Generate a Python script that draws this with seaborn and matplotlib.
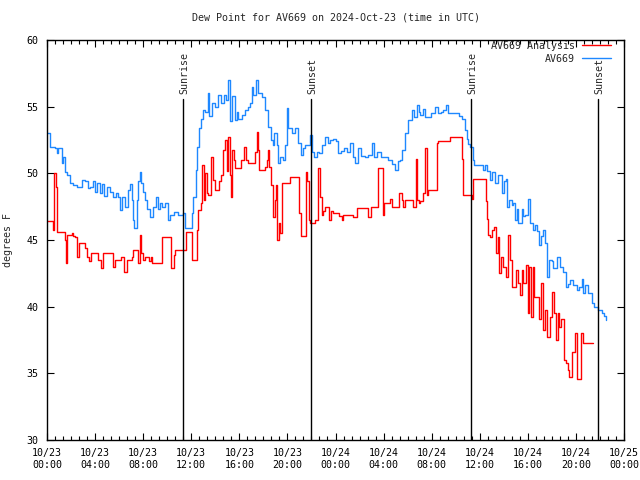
import matplotlib
matplotlib.use("Agg")
import matplotlib.pyplot as plt
import matplotlib.dates as mdates
import numpy as np
import pandas as pd
import seaborn as sns

# hours after 2024-10-23 00:00 UTC, dew point in degF
obs_hours = [
    0.0, 0.25, 0.67, 0.8, 0.92, 1.22, 1.33, 1.5, 1.64, 1.91, 2.19, 2.5, 2.89, 3.16, 3.41, 3.58,
    3.83, 4.0, 4.16, 4.41, 4.58, 4.74, 4.97, 5.24, 5.49, 5.74, 5.91, 6.07, 6.24, 6.49, 6.74, 6.9,
    7.03, 7.13, 7.26, 7.46, 7.61, 7.74, 7.86, 7.99, 8.15, 8.36, 8.57, 8.78, 9.04, 9.23, 9.4, 9.57,
    9.82, 10.04, 10.23, 10.57, 10.9, 11.31, 11.48, 11.9, 12.04, 12.17, 12.37, 12.5, 12.65, 12.81,
    13.0, 13.14, 13.37, 13.48, 13.7, 13.98, 14.25, 14.45, 14.73, 14.89, 15.08, 15.22, 15.42, 15.64,
    15.78, 15.89, 16.22, 16.47, 16.72, 16.89, 17.03, 17.16, 17.39, 17.58, 17.86, 18.14, 18.41,
    18.61, 18.78, 18.91, 19.11, 19.19, 19.38, 19.6, 19.82, 19.94, 20.07, 20.36, 20.63, 20.86,
    21.11, 21.3, 21.46, 21.74, 21.88, 22.02, 22.21, 22.46, 22.63, 22.85, 23.13, 23.38, 23.54,
    23.79, 24.0, 24.23, 24.46, 24.71, 24.96, 25.21, 25.48, 25.62, 25.9, 26.12, 26.46, 26.71,
    27.01, 27.2, 27.45, 27.79, 28.12, 28.37, 28.7, 28.95, 29.2, 29.37, 29.51, 29.78, 30.06, 30.34,
    30.53, 30.76, 30.91, 31.03, 31.28, 31.45, 31.7, 31.95, 32.28, 32.55, 32.78, 32.97, 33.17,
    33.38, 33.61, 33.94, 34.28, 34.5, 34.78, 34.92, 35.05, 35.19, 35.41, 35.52, 36.02, 36.23,
    36.44, 36.6, 36.85, 37.04, 37.27, 37.54, 37.83, 38.02, 38.19, 38.24, 38.44, 38.66, 38.79,
    38.94, 39.08, 39.21, 39.49, 39.63, 39.77, 39.99, 40.18, 40.43, 40.6, 40.77, 40.93, 41.1,
    41.24, 41.43, 41.62, 41.76, 41.99, 42.12, 42.4, 42.68, 42.93, 43.18, 43.37, 43.51, 43.76,
    44.09, 44.26, 44.48, 44.59, 44.76, 45.01, 45.32, 45.51, 45.8, 46.15, 46.3, 46.48,
]
obs_dew = [
    53.0, 52.0, 51.9, 51.5, 51.9, 50.8, 51.2, 50.1, 49.9, 49.3, 49.1, 49.0, 49.5, 49.4, 48.9, 49.0,
    49.4, 48.6, 49.3, 48.5, 49.2, 48.3, 49.0, 48.6, 48.2, 48.5, 48.2, 47.25, 48.2, 47.5, 48.75, 49.2,
    48.0, 46.5, 45.9, 48.0, 49.4, 50.1, 49.3, 48.6, 48.0, 47.3, 46.75, 47.5, 48.25, 47.3, 47.8, 47.5,
    47.8, 46.5, 46.9, 47.1, 46.9, 47.0, 45.9, 45.9, 47.0, 48.25, 50.25, 52.0, 53.4, 54.1,
    54.75, 54.6, 56.0, 54.3, 55.3, 55.0, 55.9, 55.3, 55.9, 55.5, 57.0, 53.9, 55.8, 54.0,
    54.6, 54.1, 54.4, 54.75, 55.0, 55.3, 56.5, 55.9, 57.0, 56.0, 55.7, 54.75, 53.5,
    52.5, 52.1, 53.0, 52.1, 50.75, 51.25, 51.0, 52.1, 54.9, 53.4, 53.0, 53.4, 52.25,
    51.4, 51.9, 52.1, 52.1, 52.9, 51.6, 51.25, 51.6, 51.5, 52.1, 52.75, 52.3, 52.5,
    52.6, 52.4, 51.5, 51.7, 51.9, 51.6, 52.25, 51.25, 50.75, 51.9, 51.3, 51.25, 51.4,
    52.25, 51.25, 51.6, 51.25, 51.25, 51.0, 50.7, 50.25, 50.9, 51.0, 51.75, 53.0, 54.0, 54.75,
    54.2, 55.1, 54.6, 54.4, 54.8, 54.25, 54.25, 54.5, 55.0, 54.5, 54.6, 54.75, 55.1,
    54.5, 54.5, 54.5, 54.3, 54.1, 53.25, 52.6, 52.2, 52.0, 51.0, 50.6, 50.6, 50.25,
    50.6, 50.2, 49.5, 50.1, 49.25, 49.9, 48.5, 49.4, 49.6, 47.5, 48.0, 47.6, 47.8,
    46.5, 47.3, 46.25, 47.3, 46.8, 46.9, 48.1, 46.25, 45.75, 46.1, 45.7, 44.6, 45.3,
    45.75, 44.8, 42.25, 43.5, 43.4, 42.9, 43.75, 43.0, 42.6, 41.5, 41.7, 42.0, 41.6,
    41.25, 41.5, 42.1, 41.0, 41.6, 41.0, 40.25, 40.0, 39.75, 39.5, 39.3, 39.0,
]

ana_hours = [
    0.0, 0.47, 0.52, 0.61, 0.75, 0.83, 1.33, 1.46, 1.58, 1.69, 2.05, 2.16, 2.33, 2.52, 2.66, 2.99,
    3.16, 3.33, 3.49, 3.64, 4.13, 4.27, 4.47, 4.63, 5.24, 5.47, 5.66, 6.07, 6.16, 6.43, 6.66, 7.05,
    7.18, 7.49, 7.57, 7.74, 7.82, 7.96, 8.15, 8.43, 8.51, 8.63, 8.71, 9.4, 9.54, 10.09, 10.29,
    10.46, 10.57, 10.65, 11.4, 11.56, 11.95, 12.04, 12.31, 12.45, 12.59, 12.79, 12.92, 13.02,
    13.14, 13.28, 13.42, 13.64, 13.77, 13.98, 14.25, 14.33, 14.45, 14.62, 14.81, 14.95, 15.08,
    15.22, 15.31, 15.42, 15.56, 15.64, 16.0, 16.11, 16.28, 16.41, 16.56, 16.75, 17.16, 17.3,
    17.45, 17.55, 17.64, 17.99, 18.14, 18.33, 18.41, 18.49, 18.64, 18.83, 18.97, 19.03, 19.16,
    19.3, 19.38, 19.53, 20.16, 20.22, 20.91, 21.0, 21.11, 21.38, 21.55, 21.66, 21.76, 21.88,
    22.13, 22.3, 22.57, 22.65, 22.71, 22.85, 22.96, 23.13, 23.27, 23.49, 23.63, 23.82, 24.1,
    24.29, 24.52, 24.65, 25.35, 25.48, 25.76, 26.46, 26.73, 26.93, 27.43, 27.56, 27.79, 27.93,
    28.06, 28.4, 28.54, 28.68, 29.04, 29.29, 29.51, 29.64, 29.78, 30.34, 30.47, 30.7, 30.82,
    30.95, 31.03, 31.31, 31.45, 31.59, 31.73, 32.28, 32.42, 32.55, 33.39, 33.53, 34.36, 34.5,
    34.64, 35.19, 35.33, 35.47, 36.36, 36.5, 36.58, 36.71, 36.85, 36.99, 37.21, 37.35, 37.54,
    37.63, 37.77, 37.96, 38.19, 38.38, 38.52, 38.66, 38.85, 39.02, 39.16, 39.35, 39.49, 39.63,
    39.83, 39.99, 40.12, 40.24, 40.41, 40.51, 40.68, 40.93, 41.07, 41.24, 41.43, 41.62, 41.85,
    42.04, 42.18, 42.35, 42.49, 42.6, 42.74, 42.87, 43.01, 43.18, 43.37, 43.45, 43.65, 43.84,
    43.93, 44.07, 44.28, 44.4, 44.57, 45.4,
]
ana_dew = [
    46.4, 46.4, 45.75, 50.0, 49.0, 45.6, 45.6, 45.0, 43.25, 45.4, 45.5, 45.3, 45.25, 43.75, 44.75, 44.75,
    44.4, 43.75, 43.4, 44.0, 44.0, 43.5, 42.9, 44.0, 44.0, 43.0, 43.5, 43.5, 43.75, 42.6, 43.5, 43.75,
    44.25, 44.25, 43.25, 45.4, 44.0, 43.5, 43.75, 43.75, 43.4, 43.75, 43.25, 43.25, 45.25, 45.25, 42.9,
    42.9, 43.9, 44.25, 44.25, 45.6, 45.6, 43.5, 43.5, 45.75, 47.25, 47.75, 50.6, 48.0,
    50.0, 48.5, 48.4, 51.25, 49.5, 48.75, 48.75, 49.4, 49.9, 51.75, 52.5, 50.2, 52.75,
    49.9, 48.25, 51.75, 51.0, 50.4, 50.4, 51.0, 51.0, 52.0, 51.0, 50.75, 50.75, 51.6,
    53.1, 51.75, 50.25, 50.25, 50.5, 51.0, 51.75, 50.5, 49.1, 46.75, 48.0, 49.1, 45.0,
    46.25, 45.5, 49.25, 49.25, 49.75, 49.75, 47.0, 45.3, 45.3, 50.1, 49.4, 46.5, 46.25,
    46.25, 46.5, 50.4, 50.4, 48.25, 46.9, 47.2, 47.5, 47.5, 46.5, 47.2, 47.0, 47.0,
    46.8, 46.5, 46.9, 46.9, 46.7, 47.4, 47.4, 46.75, 47.5, 47.5, 50.4, 50.4, 46.9,
    47.75, 47.75, 48.1, 47.5, 47.5, 48.5, 48.0, 47.5, 48.0, 48.0, 47.5, 51.1, 48.0,
    47.75, 47.9, 48.5, 51.9, 48.4, 48.75, 48.75, 52.25, 52.4, 52.4, 52.75, 52.75, 51.1,
    48.4, 48.4, 48.1, 49.6, 49.6, 47.9, 46.6, 45.4, 45.25, 45.75, 46.0, 44.0, 45.25,
    42.5, 43.75, 43.0, 42.25, 45.4, 43.5, 41.5, 41.5, 42.75, 41.75, 40.9, 42.75, 41.75,
    43.1, 39.5, 43.0, 39.25, 43.0, 40.75, 40.75, 39.1, 41.75, 38.25, 39.75, 37.75, 39.25,
    41.1, 39.5, 37.5, 39.5, 38.5, 39.1, 39.1, 36.0, 35.75, 35.25, 34.75, 36.6, 36.6,
    38.0, 34.6, 34.6, 38.0, 37.25, 37.25,
]

sun_hours = [11.34, 21.99, 35.30, 45.87]
sun_labels = ["Sunrise", "Sunset", "Sunrise", "Sunset"]

start = pd.Timestamp("2024-10-23 00:00")
end = pd.Timestamp("2024-10-25 00:00")
obs = pd.DataFrame({"time": start + pd.to_timedelta(obs_hours, unit="h"), "dew": obs_dew})
ana = pd.DataFrame({"time": start + pd.to_timedelta(ana_hours, unit="h"), "dew": ana_dew})

sns.set_style("ticks")
plt.rcParams["font.family"] = ["DejaVu Sans Mono"]
plt.rcParams["font.size"] = 7.2

fig = plt.figure(figsize=(6.4, 4.8), dpi=100)
ax = fig.add_axes([47 / 640, 40 / 480, 577 / 640, 400 / 480])

sns.lineplot(data=ana, x="time", y="dew", ax=ax, color="#ff0000", lw=1.0,
             drawstyle="steps-post", estimator=None, sort=False, label="AV669 Analysis")
sns.lineplot(data=obs, x="time", y="dew", ax=ax, color="#1e88ff", lw=1.0,
             drawstyle="steps-post", estimator=None, sort=False, label="AV669")

for h, lab in zip(sun_hours, sun_labels):
    t = start + pd.Timedelta(hours=h)
    ax.axvline(t, ymin=0, ymax=0.8525, color="black", lw=1.0)
    ax.text(t + pd.Timedelta(minutes=6), 0.865, lab, transform=ax.get_xaxis_transform(),
            rotation=90, ha="center", va="bottom", fontsize=7.2)

ax.set_xlim(start, end)
ax.set_ylim(30, 60)
ax.set_yticks(np.arange(30, 61, 5))
ax.xaxis.set_major_locator(mdates.HourLocator(byhour=[0, 4, 8, 12, 16, 20]))
ax.xaxis.set_major_formatter(mdates.DateFormatter("%m/%d\n%H:%M"))
ax.xaxis.set_minor_locator(mdates.MinuteLocator(byminute=[0, 40, 20], interval=1))
minor = pd.date_range(start, end, freq="40min")
ax.set_xticks(mdates.date2num(minor.to_pydatetime()), minor=True)

ax.tick_params(axis="both", which="both", direction="in", top=True, right=True,
               colors="black", labelsize=7.2)
ax.tick_params(axis="both", which="major", length=5, width=0.8)
ax.tick_params(axis="x", which="minor", length=3, width=0.8)
ax.tick_params(axis="x", which="major", pad=6)
ax.tick_params(axis="y", which="major", pad=6)
for s in ax.spines.values():
    s.set_color("black")
    s.set_linewidth(1.0)

ax.set_xlabel("")
ax.set_ylabel("degrees F", fontsize=7.2, labelpad=10)
ax.set_title("Dew Point for AV669 on 2024-Oct-23 (time in UTC)", fontsize=7.2, pad=14)

leg = ax.legend(loc="upper right", bbox_to_anchor=(1 - 13 / 577, 1 - 1 / 400), frameon=False,
                markerfirst=False, handlelength=2.9, handletextpad=0.7, labelspacing=0.3,
                borderaxespad=0, borderpad=0, fontsize=7.2)

fig.savefig("out.png", dpi=100)
